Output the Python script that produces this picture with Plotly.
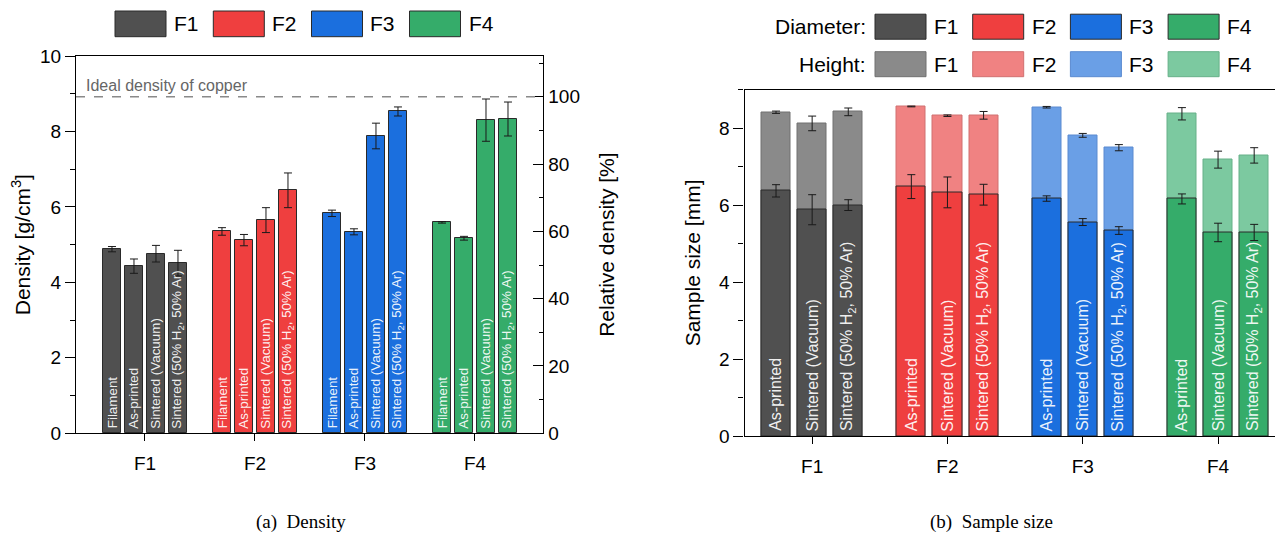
import plotly.graph_objects as go

# ---------------- data ----------------
formulations = ["F1", "F2", "F3", "F4"]
density_conditions = ["Filament", "As-printed", "Sintered (Vacuum)",
                      "Sintered (50% H<sub>2</sub>, 50% Ar)"]
size_conditions = ["As-printed", "Sintered (Vacuum)",
                   "Sintered (50% H<sub>2</sub>, 50% Ar)"]

# density [g/cm3]
density_F1 = [4.88, 4.43, 4.76, 4.51]
density_F2 = [5.35, 5.12, 5.65, 6.44]
density_F3 = [5.83, 5.34, 7.88, 8.53]
density_F4 = [5.59, 5.17, 8.30, 8.33]
density_err_F1 = [0.07, 0.19, 0.22, 0.34]
density_err_F2 = [0.10, 0.15, 0.33, 0.46]
density_err_F3 = [0.085, 0.08, 0.34, 0.12]
density_err_F4 = [0.02, 0.05, 0.56, 0.45]
ideal_copper_density = 8.92

# sample size [mm]
diameter_F1 = [6.37, 5.88, 6.00]
diameter_F2 = [6.48, 6.33, 6.27]
diameter_F3 = [6.17, 5.56, 5.34]
diameter_F4 = [6.16, 5.29, 5.29]
diameter_err_F1 = [0.16, 0.39, 0.14]
diameter_err_F2 = [0.31, 0.40, 0.27]
diameter_err_F3 = [0.07, 0.09, 0.10]
diameter_err_F4 = [0.13, 0.24, 0.21]
height_F1 = [8.41, 8.12, 8.42]
height_F2 = [8.56, 8.32, 8.33]
height_F3 = [8.54, 7.81, 7.49]
height_F4 = [8.37, 7.18, 7.29]
height_err_F1 = [0.03, 0.19, 0.10]
height_err_F2 = [0.01, 0.02, 0.10]
height_err_F3 = [0.02, 0.05, 0.08]
height_err_F4 = [0.16, 0.22, 0.20]

density = [density_F1, density_F2, density_F3, density_F4]
density_err = [density_err_F1, density_err_F2, density_err_F3, density_err_F4]
diameter = [diameter_F1, diameter_F2, diameter_F3, diameter_F4]
diameter_err = [diameter_err_F1, diameter_err_F2, diameter_err_F3, diameter_err_F4]
height = [height_F1, height_F2, height_F3, height_F4]
height_err = [height_err_F1, height_err_F2, height_err_F3, height_err_F4]

# ---------------- style ----------------
PAGE_OFF = 8                      # default body margin of the html page
W, H = 1283 - PAGE_OFF, 542 - PAGE_OFF
FONT = "Liberation Sans, Arial, sans-serif"
SERIF = "Liberation Serif, Times New Roman, serif"
dark = ["#505050", "#EF3F3F", "#1B6FDE", "#35AC6A"]
light = ["#8A8A8A", "#F08282", "#6A9FE6", "#7CC9A0"]
light_line = ["#707070", "#D07070", "#5A8AD0", "#66B088"]
LABEL_COLOR = "rgba(255,255,255,0.93)"


def px(x):
    return (x - PAGE_OFF) / W


def py(y):
    return 1 - (y - PAGE_OFF) / H


fig = go.Figure()
shapes = []
annotations = []

# ----- (a) density -----
dens_off = [-0.3, -0.1, 0.1, 0.3]
for i, f in enumerate(formulations):
    xs = [i + 1 + o for o in dens_off]
    fig.add_trace(go.Bar(
        x=xs, y=density[i], width=0.159,
        marker=dict(color=dark[i], line=dict(color="#2a2a2a", width=1)),
        error_y=dict(type="data", array=density_err[i], color="#1a1a1a",
                     thickness=1, width=4),
        xaxis="x", yaxis="y", showlegend=False, name=f, hoverinfo="skip"))
    for xv, lab in zip(xs, density_conditions):
        annotations.append(dict(xref="x", yref="y", x=xv, y=0, yshift=3,
                                xanchor="center", yanchor="bottom",
                                textangle=-90, showarrow=False, text=lab,
                                font=dict(size=13.4, family=FONT,
                                          color=LABEL_COLOR)))

# invisible helper so the relative-density axis is attached
fig.add_trace(go.Scatter(x=[1], y=[0], xaxis="x", yaxis="y2", mode="markers",
                         marker=dict(opacity=0), showlegend=False,
                         hoverinfo="skip"))

# ----- (b) sample size -----
size_off = [-0.267, 0.0, 0.267]
for i, f in enumerate(formulations):
    fig.add_trace(go.Bar(
        x=[i + 1 + o for o in size_off], y=height[i], width=0.215,
        marker=dict(color=light[i], line=dict(color=light_line[i], width=1)),
        error_y=dict(type="data", array=height_err[i], color="#1a1a1a",
                     thickness=1, width=4),
        xaxis="x2", yaxis="y3", showlegend=False, name="Height " + f,
        hoverinfo="skip"))
for i, f in enumerate(formulations):
    xs = [i + 1 + o for o in size_off]
    fig.add_trace(go.Bar(
        x=xs, y=diameter[i], width=0.215,
        marker=dict(color=dark[i], line=dict(color="#2a2a2a", width=1)),
        error_y=dict(type="data", array=diameter_err[i], color="#1a1a1a",
                     thickness=1, width=4),
        xaxis="x2", yaxis="y3", showlegend=False, name="Diameter " + f,
        hoverinfo="skip"))
    for xv, lab in zip(xs, size_conditions):
        annotations.append(dict(xref="x2", yref="y3", x=xv, y=0, yshift=3,
                                xanchor="center", yanchor="bottom",
                                textangle=-90, showarrow=False, text=lab,
                                font=dict(size=16, family=FONT,
                                          color=LABEL_COLOR)))

axis_common = dict(showline=True, linecolor="black", linewidth=1.3,
                   showgrid=False, zeroline=False,
                   tickfont=dict(size=19, family=FONT, color="black"),
                   tickcolor="black", tickwidth=1.2)

# ideal density line
shapes.append(dict(type="line", xref="x domain", yref="y", x0=0, x1=1,
                   y0=ideal_copper_density, y1=ideal_copper_density,
                   line=dict(color="#8a8a8a", width=1.3, dash="dash")))
annotations.append(dict(xref="x domain", yref="y", x=0.018,
                        y=ideal_copper_density, yshift=1, xanchor="left",
                        yanchor="bottom", showarrow=False,
                        text="Ideal density of copper",
                        font=dict(size=16, family=FONT, color="#666666")))

# legend (a)
leg_a_x = [115, 213.3, 311.5, 409.5]
for i, f in enumerate(formulations):
    x0 = leg_a_x[i]
    shapes.append(dict(type="rect", xref="paper", yref="paper",
                       x0=px(x0), x1=px(x0 + 51), y0=py(36.7), y1=py(11),
                       fillcolor=dark[i], line=dict(color="#2a2a2a", width=1)))
    annotations.append(dict(xref="paper", yref="paper", x=px(x0 + 57),
                            y=py(24), xanchor="left", yanchor="middle",
                            showarrow=False, text=f,
                            font=dict(size=21, family=FONT, color="black")))

# legend (b)
leg_b_x = [875, 972.7, 1070.4, 1168.1]
for row, (label, cols, lcols, yc) in enumerate(
        [("Diameter:", dark, ["#2a2a2a"] * 4, 26.7),
         ("Height:", light, light_line, 64.2)]):
    annotations.append(dict(xref="paper", yref="paper", x=px(868), y=py(yc),
                            xanchor="right", yanchor="middle", showarrow=False,
                            text=label,
                            font=dict(size=21, family=FONT, color="black")))
    for i, f in enumerate(formulations):
        x0 = leg_b_x[i]
        shapes.append(dict(type="rect", xref="paper", yref="paper",
                           x0=px(x0), x1=px(x0 + 51), y0=py(yc + 12.5),
                           y1=py(yc - 12.5), fillcolor=cols[i],
                           line=dict(color=lcols[i], width=1)))
        annotations.append(dict(xref="paper", yref="paper", x=px(x0 + 57),
                                y=py(yc), xanchor="left", yanchor="middle",
                                showarrow=False, text=f,
                                font=dict(size=21, family=FONT, color="black")))

# captions
annotations.append(dict(xref="paper", yref="paper", x=px(301), y=py(522),
                        xanchor="center", yanchor="middle", showarrow=False,
                        text="(a)  Density",
                        font=dict(size=19, family=SERIF, color="black")))
annotations.append(dict(xref="paper", yref="paper", x=px(991), y=py(522),
                        xanchor="center", yanchor="middle", showarrow=False,
                        text="(b)  Sample size",
                        font=dict(size=19, family=SERIF, color="black")))

fig.update_layout(
    width=W, height=H,
    margin=dict(l=0, r=0, t=0, b=0, autoexpand=False),
    paper_bgcolor="white", plot_bgcolor="white",
    barmode="overlay", bargap=0,
    font=dict(family=FONT, color="black"),
    xaxis=dict(domain=[px(76), px(543.3)], range=[0.373, 4.621],
               anchor="y", tickvals=[1, 2, 3, 4], ticktext=formulations,
               ticks="outside", ticklen=7, mirror=True, automargin=False,
               ticklabelstandoff=6, **axis_common),
    yaxis=dict(domain=[py(433.3), py(56)], range=[0, 10], anchor="x",
               dtick=2, ticks="outside", ticklen=10, automargin=False,
               minor=dict(dtick=1, ticks="outside", ticklen=5,
                          tickcolor="black"),
               title=dict(text="Density [g/cm<sup>3</sup>]", standoff=7,
                          font=dict(size=21, family=FONT, color="black")),
               **axis_common),
    yaxis2=dict(overlaying="y", side="right", anchor="x",
                range=[0, 1000 / ideal_copper_density], dtick=20,
                ticks="inside", ticklen=10, automargin=False,
                minor=dict(dtick=10, ticks="inside", ticklen=4,
                           tickcolor="black"),
                title=dict(text="Relative density [%]", standoff=20,
                           font=dict(size=21, family=FONT, color="black")),
                **axis_common),
    xaxis2=dict(domain=[px(744.5), 1.0], range=[0.5, 4.48], anchor="y3",
                tickvals=[1, 2, 3, 4], ticktext=formulations,
                ticks="outside", ticklen=7, mirror=True, automargin=False,
                ticklabelstandoff=6, **axis_common),
    yaxis3=dict(domain=[py(436.3), py(89.5)], range=[0, 9.0], anchor="x2",
                dtick=2, ticks="outside", ticklen=10, automargin=False,
                minor=dict(dtick=1, ticks="outside", ticklen=5,
                           tickcolor="black"),
                title=dict(text="Sample size [mm]", standoff=12,
                           font=dict(size=21, family=FONT, color="black")),
                **axis_common),
    shapes=shapes, annotations=annotations,
)

fig.write_html("out.html")
